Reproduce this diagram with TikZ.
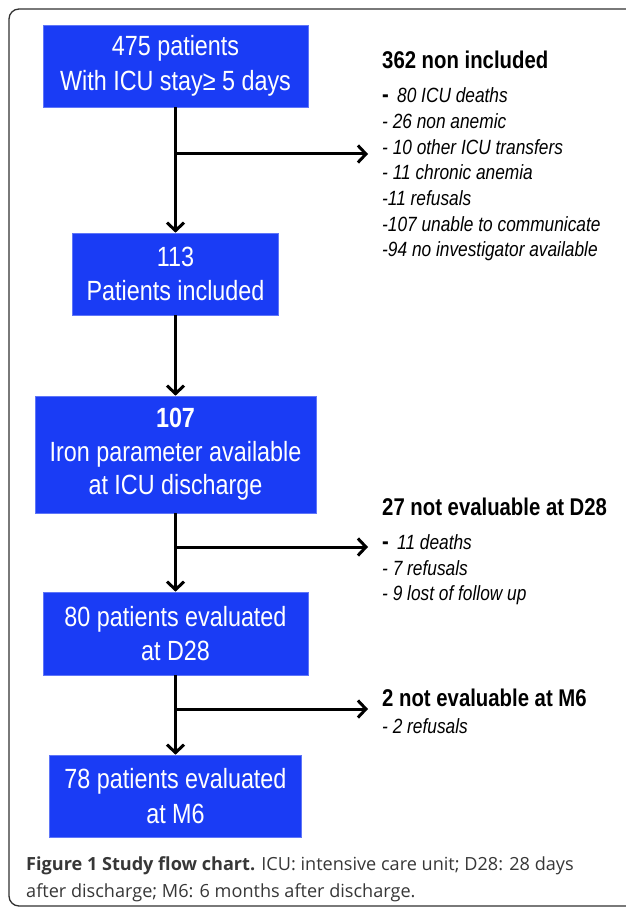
\documentclass[tikz,border=0pt]{standalone}
\usepackage{fontspec}
\usetikzlibrary{arrows.meta}
\newfontfamily\arialf[FakeStretch=0.84]{Liberation Sans}
\newfontfamily\capf{Open Sans}
\definecolor{boxblue}{RGB}{26,60,245}
\definecolor{framegray}{RGB}{50,50,50}
\definecolor{capgray}{RGB}{55,55,55}
\begin{document}
\begin{tikzpicture}[x=1pt,y=-1pt,
  flowbox/.style={fill=boxblue, draw=boxblue!70!white, line width=0.6pt, inner sep=0pt,
    text=white, align=center, font=\arialf\fontsize{27.8}{34.5}\selectfont},
  conn/.style={line width=3pt, -{Straight Barb[length=8pt,width=17pt]}},
  headtxt/.style={anchor=base west, inner sep=0pt, font=\arialf\bfseries\fontsize{24.2}{26}\selectfont},
  itemtxt/.style={anchor=base west, inner sep=0pt, font=\arialf\itshape\fontsize{20.6}{24}\selectfont},
  captxt/.style={anchor=base west, inner sep=0pt, text=capgray, font=\capf\fontsize{18.1}{22}\selectfont},
]
\useasboundingbox (0,0) rectangle (625,909);
\fill[white] (0,0) rectangle (625,909);
\draw[framegray, line width=1.3pt, rounded corners=10pt] (9,9) rectangle (660,906);

% boxes
\node[flowbox, minimum width=265pt, minimum height=82pt] (b1) at (175.5,66)
  {475 patients\\With ICU stay≥ 5 days};
\node[flowbox, minimum width=206pt, minimum height=82pt] (b2) at (175.5,274)
  {113\\Patients included};
\node[flowbox, minimum width=281pt, minimum height=117pt, font=\arialf\fontsize{27.8}{33.5}\selectfont] (b3) at (175.5,454.5)
  {\textbf{107}\\Iron parameter available\\at ICU discharge};
\node[flowbox, minimum width=265pt, minimum height=83pt] (b4) at (175.5,633.5)
  {80 patients evaluated\\at D28};
\node[flowbox, minimum width=252pt, minimum height=82pt] (b5) at (175.5,796)
  {78 patients evaluated\\at M6};

% connectors
\draw[conn] (b1.south) -- (b2.north);
\draw[conn] (b2.south) -- (b3.north);
\draw[conn] (b3.south) -- (b4.north);
\draw[conn] (b4.south) -- (b5.north);
\coordinate (j1) at (175.5,154);
\coordinate (t1) at (368,154);
\coordinate (j2) at (175.5,547);
\coordinate (t2) at (368,547);
\coordinate (j3) at (175.5,709);
\coordinate (t3) at (368,709);
\draw[conn] (j1) -- (t1);
\draw[conn] (j2) -- (t2);
\draw[conn] (j3) -- (t3);

% side texts
\node[headtxt] (h1) at (382,69) {362 non included};
\node[itemtxt] (i11) at (382,103) {{\upshape\bfseries\fontsize{24}{24}\selectfont -}\, 80 ICU deaths};
\node[itemtxt] (i12) at (382,128.6) {- 26 non anemic};
\node[itemtxt] (i13) at (382,154.2) {- 10 other ICU transfers};
\node[itemtxt] (i14) at (382,179.8) {- 11 chronic anemia};
\node[itemtxt] (i15) at (382,205.4) {-11 refusals};
\node[itemtxt] (i16) at (382,231) {-107 unable to communicate};
\node[itemtxt] (i17) at (382,256.6) {-94 no investigator available};

\node[headtxt] (h2) at (382,515) {27 not evaluable at D28};
\node[itemtxt] (i21) at (382,549) {{\upshape\bfseries\fontsize{24}{24}\selectfont -}\, 11 deaths};
\node[itemtxt] (i22) at (382,575) {- 7 refusals};
\node[itemtxt] (i23) at (382,600) {- 9 lost of follow up};

\node[headtxt] (h3) at (382,706) {2 not evaluable at M6};
\node[itemtxt] (i31) at (382,733) {- 2 refusals};

% caption
\node[captxt] (c1) at (26,870) {\textbf{Figure 1 Study flow chart.} ICU: intensive care unit; D28: 28 days};
\node[captxt] (c2) at (26,897) {after discharge; M6: 6 months after discharge.};
\end{tikzpicture}
\end{document}
